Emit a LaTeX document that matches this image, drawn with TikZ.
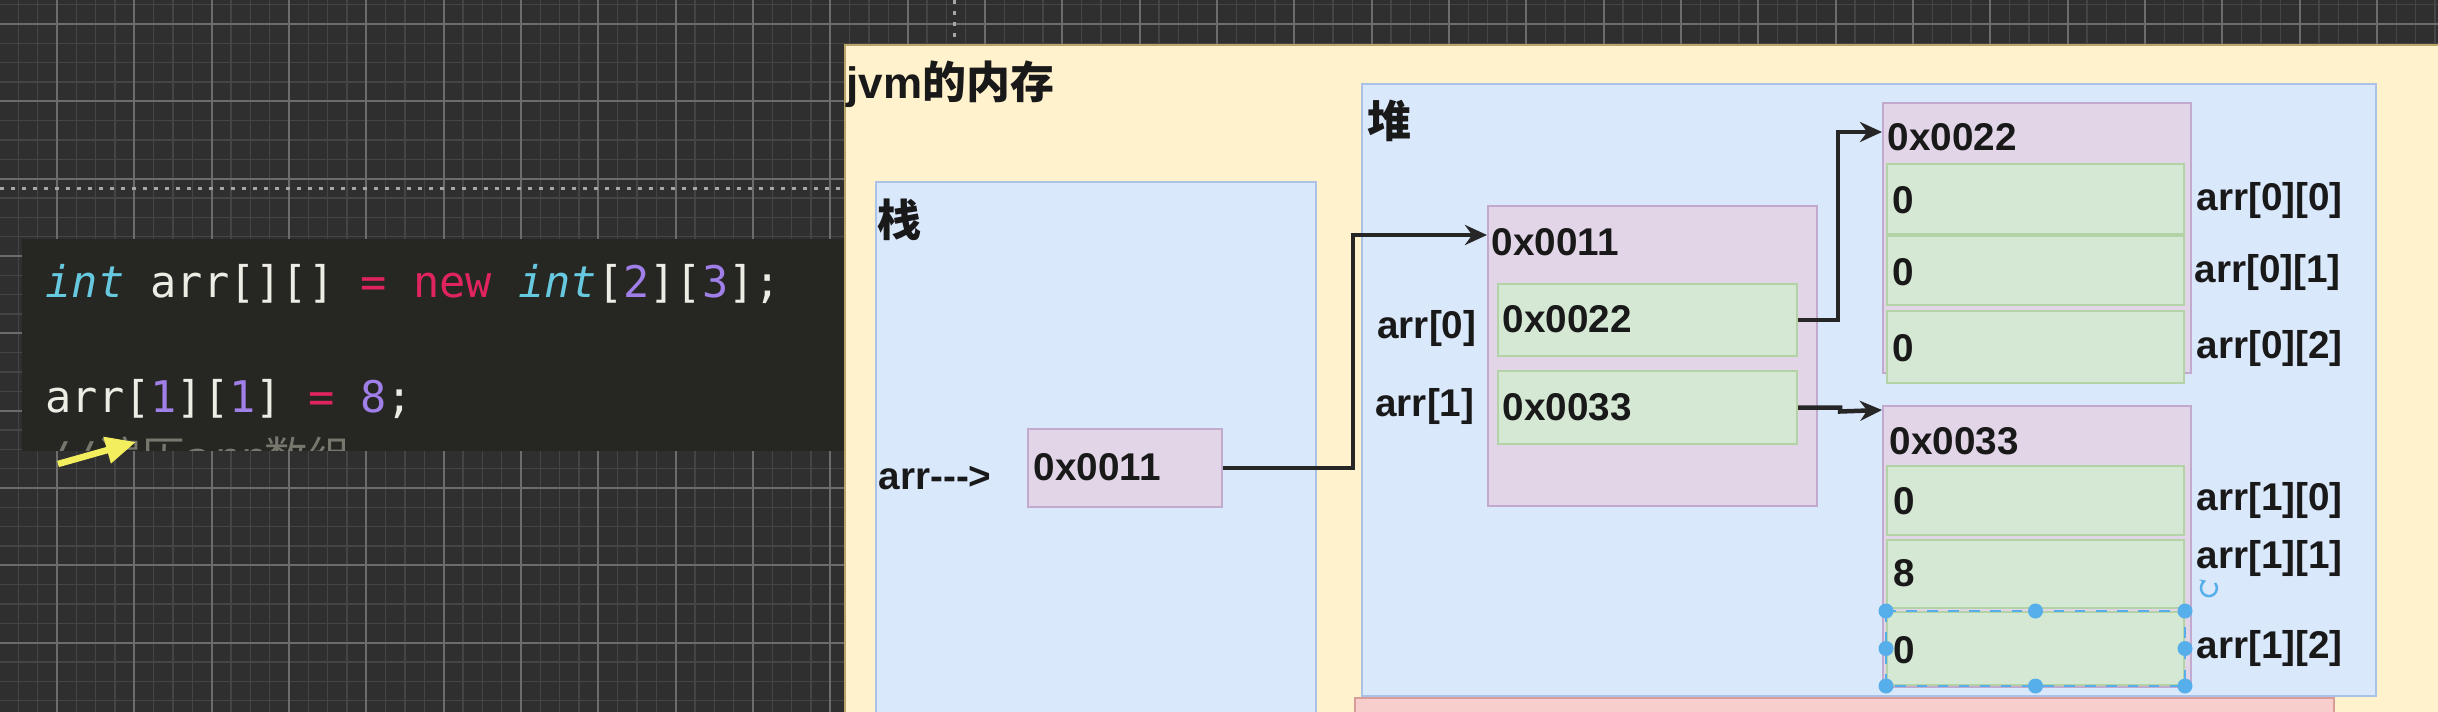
\documentclass[tikz,border=0pt]{standalone}
\usepackage{fontspec}
\setmainfont{Liberation Sans}
\setmonofont{DejaVu Sans Mono}
\newfontfamily\cjk{Noto Sans CJK SC}
\usetikzlibrary{arrows.meta,calc}
\definecolor{bgc}{HTML}{2F2F2F}
\definecolor{gminor}{HTML}{454545}
\definecolor{gmajor}{HTML}{6C6C6C}
\definecolor{panel}{HTML}{262622}
\definecolor{kw}{HTML}{66C9E0}
\definecolor{tx}{HTML}{EDEDE6}
\definecolor{op}{HTML}{E0245E}
\definecolor{num}{HTML}{A07FE8}
\definecolor{cmt}{HTML}{77776E}
\definecolor{yel}{HTML}{F2EE5E}
\definecolor{jvmF}{HTML}{FFF2CC}
\definecolor{jvmB}{HTML}{B9A565}
\definecolor{blueF}{HTML}{DAE8FC}
\definecolor{blueB}{HTML}{A9C2E6}
\definecolor{purF}{HTML}{E1D5E7}
\definecolor{purB}{HTML}{C2AACF}
\definecolor{grnF}{HTML}{D5E8D4}
\definecolor{grnB}{HTML}{B3D2A6}
\definecolor{redF}{HTML}{F8CECC}
\definecolor{redB}{HTML}{D99C9A}
\definecolor{sel}{HTML}{56AEEB}
\newcommand\lblfont{\fontsize{11pt}{13pt}\selectfont\bfseries}
\newcommand\codefont{\fontsize{12.4pt}{14pt}\selectfont\ttfamily}
\newcommand\rbox[6]{\node[#1, anchor=north west, inner sep=0pt,
  minimum width=(#5-#3)*0.01cm, minimum height=(#6-#4)*0.01cm] (#2) at (#3,#4) {};}
\tikzset{
  gridminor/.style={draw=gminor, line width=0.012cm},
  gridmajor/.style={draw=gmajor, line width=0.02cm},
  dotline/.style={draw=gray!70, line width=0.03cm, dash pattern=on 0.04cm off 0.07cm},
  jvmbox/.style={draw=jvmB, fill=jvmF, line width=0.02cm},
  bluebox/.style={draw=blueB, fill=blueF, line width=0.02cm},
  purbox/.style={draw=purB, fill=purF, line width=0.02cm},
  grnbox/.style={draw=grnB, fill=grnF, line width=0.02cm},
  redbox/.style={draw=redB, fill=redF, line width=0.02cm},
  lbl/.style={font=\lblfont, inner sep=0pt, anchor=west, text=black!90},
  head/.style={font=\fontsize{12.5pt}{14pt}\selectfont\bfseries, inner sep=0pt, anchor=west, text=black!90},
  code/.style={font=\codefont, inner sep=0pt, anchor=base west},
  conn/.style={draw=black!85, line width=0.045cm, -{Stealth[length=0.22cm, width=0.2cm]}},
  yarrow/.style={draw=yel, line width=0.065cm, -{Triangle[length=0.3cm, width=0.26cm]}},
  handle/.style={fill=sel, draw=none},
}
\begin{document}
\begin{tikzpicture}[x=0.01cm,y=-0.01cm]
\useasboundingbox (0,0) rectangle (2438,712);
\clip (0,0) rectangle (2438,712);
% background and grid
\fill[bgc] (0,0) rectangle (2438,712);
\foreach \i in {-3,...,124} \draw[gridminor] ({57+\i*19.333},0) -- ++(0,712);
\foreach \j in {-2,...,36} \draw[gridminor] (0,{24+\j*19.333}) -- ++(2438,0);
\foreach \i in {-1,...,31} \draw[gridmajor] ({57+\i*77.333},0) -- ++(0,712);
\foreach \j in {-1,...,9} \draw[gridmajor] (0,{24+\j*77.333}) -- ++(2438,0);
\draw[dotline] (0,188) -- (844,188);
\draw[dotline] (954,0) -- (954,44);
% code panel
\rbox{fill=panel}{codepanel}{21}{238}{850}{450}
\node[code] (line1) at (45,297) {\textcolor{kw}{\itshape int} \textcolor{tx}{arr[][]} \textcolor{op}{=} \textcolor{op}{new} \textcolor{kw}{\itshape int}\textcolor{tx}{[}\textcolor{num}{2}\textcolor{tx}{][}\textcolor{num}{3}\textcolor{tx}{];}};
\node[code] (line2) at (45,412) {\textcolor{tx}{arr[}\textcolor{num}{1}\textcolor{tx}{][}\textcolor{num}{1}\textcolor{tx}{]} \textcolor{op}{=} \textcolor{num}{8}\textcolor{tx}{;}};
\begin{scope}
\clip (21,238) rectangle (850,450);
\node[code, text=cmt] (line3) at (45,473) {//{\cjk 遍历}arr{\cjk 数组}};
\end{scope}
\coordinate (ytail) at (58,464);
\coordinate (yhead) at (136,442);
\draw[yarrow] (ytail) -- (yhead);
% jvm memory
\rbox{jvmbox}{jvm}{844}{44}{2460}{760}
\node[head] (jvmt) at (846,84) {jvm{\cjk 的内存}};
\rbox{bluebox}{stack}{875}{181}{1315}{760}
\node[head] (stackt) at (877,220) {{\cjk 栈}};
\rbox{bluebox}{heap}{1361}{83}{2375}{695}
\node[head] (heapt) at (1367,121) {{\cjk 堆}};
\rbox{redbox}{other}{1354}{697}{2333}{760}
% stack variable
\node[lbl] (arrlbl) at (878,478) {arr{-}{-}{-}>};
\rbox{purbox}{sc}{1027}{428}{1221}{506}
\node[lbl] (sct) at (1033,467) {0x0011};
% outer array
\rbox{purbox}{outer}{1487}{205}{1816}{505}
\node[lbl] (outert) at (1491,242) {0x0011};
\rbox{grnbox}{ca}{1497}{283}{1796}{355}
\node[lbl] (cat) at (1502,319) {0x0022};
\rbox{grnbox}{cb}{1497}{370}{1796}{443}
\node[lbl] (cbt) at (1502,407) {0x0033};
\node[lbl, anchor=east] (la) at (1477,328) {arr[0]};
\node[lbl, anchor=east] (lb) at (1475,406) {arr[1]};
% inner array 0x0022
\rbox{purbox}{ba}{1882}{102}{2190}{372}
\node[lbl] (bat) at (1887,137) {0x0022};
\rbox{grnbox}{a0}{1886}{163}{2183}{233}
\rbox{grnbox}{a1}{1886}{235}{2183}{304}
\rbox{grnbox}{a2}{1886}{310}{2183}{382}
\node[lbl] (a0t) at (1892,200) {0};
\node[lbl] (a1t) at (1892,272) {0};
\node[lbl] (a2t) at (1892,348) {0};
\node[lbl] (a0l) at (2196,200) {arr[0][0]};
\node[lbl] (a1l) at (2194,272) {arr[0][1]};
\node[lbl] (a2l) at (2196,348) {arr[0][2]};
% inner array 0x0033
\rbox{purbox}{bb}{1882}{405}{2190}{686}
\node[lbl] (bbt) at (1889,441) {0x0033};
\rbox{grnbox}{b0}{1886}{465}{2183}{534}
\rbox{grnbox}{b1}{1886}{539}{2183}{607}
\rbox{grnbox}{b2}{1886}{611}{2183}{684}
\node[lbl] (b0t) at (1893,501) {0};
\node[lbl] (b1t) at (1893,573) {8};
\node[lbl] (b2t) at (1893,650) {0};
\node[lbl] (b0l) at (2196,500) {arr[1][0]};
\node[lbl] (b1l) at (2196,558) {arr[1][1]};
\node[lbl] (b2l) at (2196,648) {arr[1][2]};
% connectors
\draw[conn] (sc.east) -| ($(outer.north west)+(-134,30)$) -- ($(outer.north west)+(0,30)$);
\draw[conn] (ca.east) -| ($(ba.north west)+(-44,30)$) -- ($(ba.north west)+(0,30)$);
\draw[conn] (cb.east) -- ++(42,0) -- ++(0,4) -- ($(bb.north west)+(0,5)$);
% selection handles
\draw[sel, line width=0.015cm, dashed] (b2.north west) rectangle (b2.south east);
\foreach \p in {north west, north, north east, west, east, south west, south, south east}
  \fill[handle] (b2.\p) circle[radius=0.075cm];
\draw[sel, line width=0.025cm, -{Stealth[length=0.06cm,width=0.07cm]}] (2215,583) arc[start angle=40, end angle=-250, radius=0.08cm];
\end{tikzpicture}
\end{document}
